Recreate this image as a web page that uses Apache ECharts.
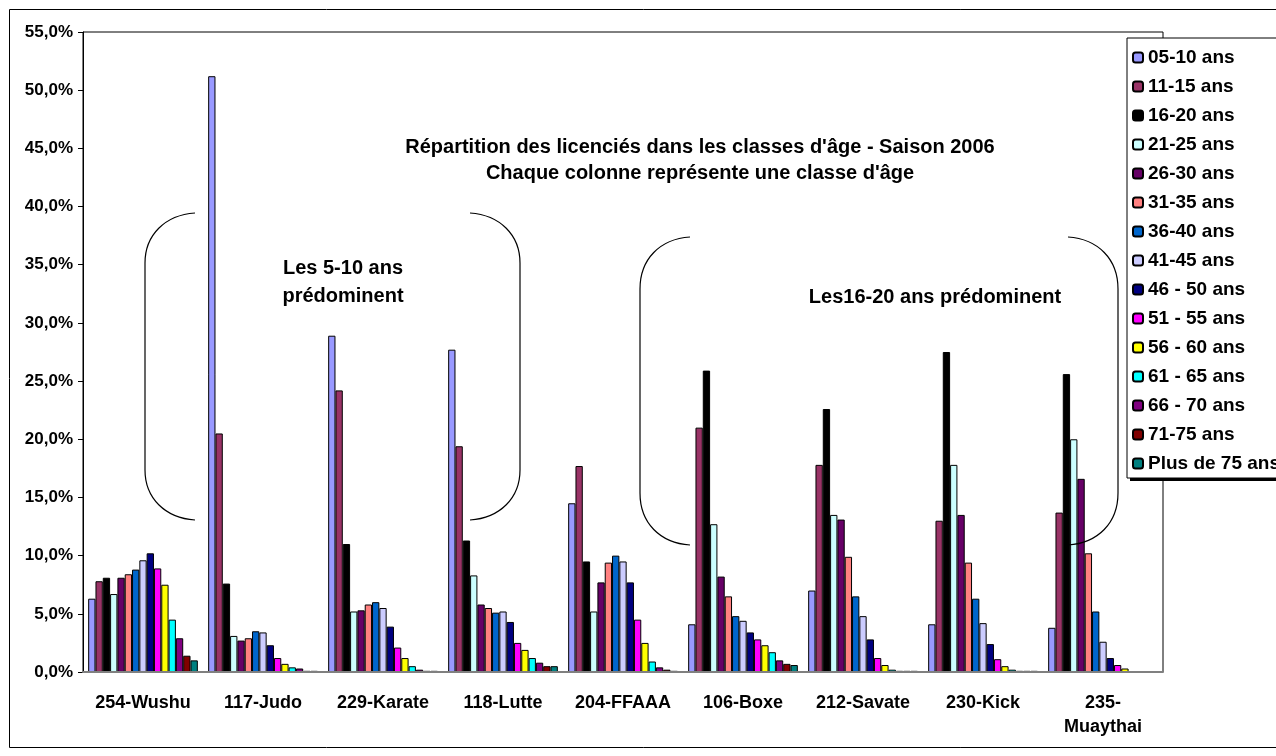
<!DOCTYPE html>
<html>
<head>
<meta charset="utf-8">
<script src="https://cdn.jsdelivr.net/npm/echarts@6/dist/echarts.min.js"></script>
<style>
html,body{margin:0;padding:0;background:#fff;}
#chart{width:1276px;height:756px;}
</style>
</head>
<body>
<div id="chart"></div>
<script>
// ---- data ----
const categories = ['254-Wushu','117-Judo','229-Karate','118-Lutte','204-FFAAA','106-Boxe','212-Savate','230-Kick','235-\nMuaythai'];
const ageClasses = ['05-10 ans','11-15 ans','16-20 ans','21-25 ans','26-30 ans','31-35 ans','36-40 ans','41-45 ans','46 - 50 ans','51 - 55 ans','56 - 60 ans','61 - 65 ans','66 - 70 ans','71-75 ans','Plus de 75 ans'];
const a05_10 = [6.3, 51.2, 28.9, 27.7, 14.5, 4.1, 7.0, 4.1, 3.8];
const a11_15 = [7.8, 20.5, 24.2, 19.4, 17.7, 21.0, 17.8, 13.0, 13.7];
const a16_20 = [8.1, 7.6, 11.0, 11.3, 9.5, 25.9, 22.6, 27.5, 25.6];
const a21_25 = [6.7, 3.1, 5.2, 8.3, 5.2, 12.7, 13.5, 17.8, 20.0];
const a26_30 = [8.1, 2.7, 5.3, 5.8, 7.7, 8.2, 13.1, 13.5, 16.6];
const a31_35 = [8.4, 2.9, 5.8, 5.5, 9.4, 6.5, 9.9, 9.4, 10.2];
const a36_40 = [8.8, 3.5, 6.0, 5.1, 10.0, 4.8, 6.5, 6.3, 5.2];
const a41_45 = [9.6, 3.4, 5.5, 5.2, 9.5, 4.4, 4.8, 4.2, 2.6];
const a46_50 = [10.2, 2.3, 3.9, 4.3, 7.7, 3.4, 2.8, 2.4, 1.2];
const a51_55 = [8.9, 1.2, 2.1, 2.5, 4.5, 2.8, 1.2, 1.1, 0.6];
const a56_60 = [7.5, 0.7, 1.2, 1.9, 2.5, 2.3, 0.6, 0.5, 0.3];
const a61_65 = [4.5, 0.4, 0.5, 1.2, 0.9, 1.7, 0.2, 0.2, 0];
const a66_70 = [2.9, 0.3, 0.2, 0.8, 0.4, 1.0, 0.1, 0.1, 0];
const a71_75 = [1.4, 0.1, 0.1, 0.5, 0.2, 0.7, 0.1, 0.1, 0];
const a75plus = [1.0, 0.1, 0.1, 0.5, 0.1, 0.6, 0.1, 0.1, 0];
const seriesValues = [a05_10,a11_15,a16_20,a21_25,a26_30,a31_35,a36_40,a41_45,a46_50,a51_55,a56_60,a61_65,a66_70,a71_75,a75plus];
const colors = ['#9999FF','#993366','#000000','#CCFFFF','#660066','#FF8080','#0066CC','#CCCCFF','#000080','#FF00FF','#FFFF00','#00FFFF','#800080','#800000','#008080'];
const titleText = "Répartition des licenciés dans les classes d'âge - Saison 2006\nChaque colonne représente une classe d'âge";
const note1 = 'Les 5-10 ans\nprédominent';
const note2 = 'Les16-20 ans prédominent';

// ---- chart ----
const FONT = '"Liberation Sans", Arial, sans-serif';
const chart = echarts.init(document.getElementById('chart'), null, {renderer:'canvas'});
const series = seriesValues.map((vals, i) => ({
  name: ageClasses[i],
  type: 'bar',
  data: vals,
  barGap: '0%',
  barCategoryGap: '8.6%',
  itemStyle: {color: colors[i], borderColor: '#000', borderWidth: 1},
  emphasis: {disabled: true},
  z: 2
}));

// annotation bracket made of two bezier curves and a straight line (decoration, not data)
function bracket(x0, yTop, yBot, dir, r) {
  const xv = x0 + dir * 50;
  const st = {fill: null, stroke: '#000', lineWidth: 1.2};
  return [
    {type: 'bezierCurve', shape: {x1: x0, y1: yTop, cpx1: x0 + dir*30, cpy1: yTop + 2, cpx2: xv, cpy2: yTop + 22, x2: xv, y2: yTop + r}, style: st, z: 10, silent: true},
    {type: 'line', shape: {x1: xv, y1: yTop + r, x2: xv, y2: yBot - r}, style: st, z: 10, silent: true},
    {type: 'bezierCurve', shape: {x1: xv, y1: yBot - r, cpx1: xv, cpy1: yBot - 22, cpx2: x0 + dir*30, cpy2: yBot - 2, x2: x0, y2: yBot}, style: st, z: 10, silent: true}
  ];
}

const LEG_X = 1127, LEG_Y = 38, LEG_H = 440;

const option = {
  animation: false,
  color: colors,
  grid: {left: 83, right: 113, top: 32, bottom: 84, show: true, borderColor: '#000', borderWidth: 1, backgroundColor: 'transparent'},
  xAxis: {
    type: 'category',
    data: categories,
    z: 3,
    axisLine: {lineStyle: {color: '#808080', width: 2}},
    axisTick: {show: false},
    axisLabel: {interval: 0, hideOverlap: false, color: '#000', fontFamily: FONT, fontWeight: 'bold', fontSize: 18, margin: 19, lineHeight: 24}
  },
  yAxis: {
    type: 'value', min: 0, max: 55, interval: 5,
    axisLine: {show: true, lineStyle: {color: '#000', width: 1}},
    axisTick: {show: true, length: 5, lineStyle: {color: '#000'}},
    splitLine: {show: false},
    axisLabel: {color: '#000', fontFamily: FONT, fontWeight: 'bold', fontSize: 17, margin: 10,
      formatter: v => v.toFixed(1).replace('.', ',') + '%'}
  },
  legend: {
    orient: 'vertical', left: LEG_X, top: LEG_Y,
    padding: [10, 5, 5, 5],
    itemWidth: 10, itemHeight: 10, itemGap: 10,
    backgroundColor: '#fff', borderColor: '#000', borderWidth: 1,
    textStyle: {color: '#000', fontFamily: FONT, fontWeight: 'bold', fontSize: 19},
    data: ageClasses,
    selectedMode: false,
    z: 20
  },
  series: series,
  graphic: [
    {type: 'rect', shape: {x: 9.5, y: 9.5, width: 1300, height: 738}, style: {fill: null, stroke: '#000', lineWidth: 1}, z: 0, silent: true},
    {type: 'rect', shape: {x: LEG_X + 3, y: LEG_Y + 3, width: 300, height: LEG_H}, style: {fill: '#000'}, z: 15, silent: true},
    {type: 'text', x: 700, y: 160, style: {text: titleText, fill: '#000', font: 'bold 20px ' + FONT, textAlign: 'center', textVerticalAlign: 'middle', lineHeight: 26}, z: 10},
    {type: 'text', x: 343, y: 282, style: {text: note1, fill: '#000', font: 'bold 20px ' + FONT, textAlign: 'center', textVerticalAlign: 'middle', lineHeight: 28}, z: 10},
    {type: 'text', x: 935, y: 297, style: {text: note2, fill: '#000', font: 'bold 20px ' + FONT, textAlign: 'center', textVerticalAlign: 'middle'}, z: 10}
  ].concat(bracket(195, 213, 520, -1, 50), bracket(470, 213, 520, 1, 50), bracket(690, 237, 545, -1, 52), bracket(1068, 237, 545, 1, 52))
};
chart.setOption(option);
</script>
</body>
</html>
